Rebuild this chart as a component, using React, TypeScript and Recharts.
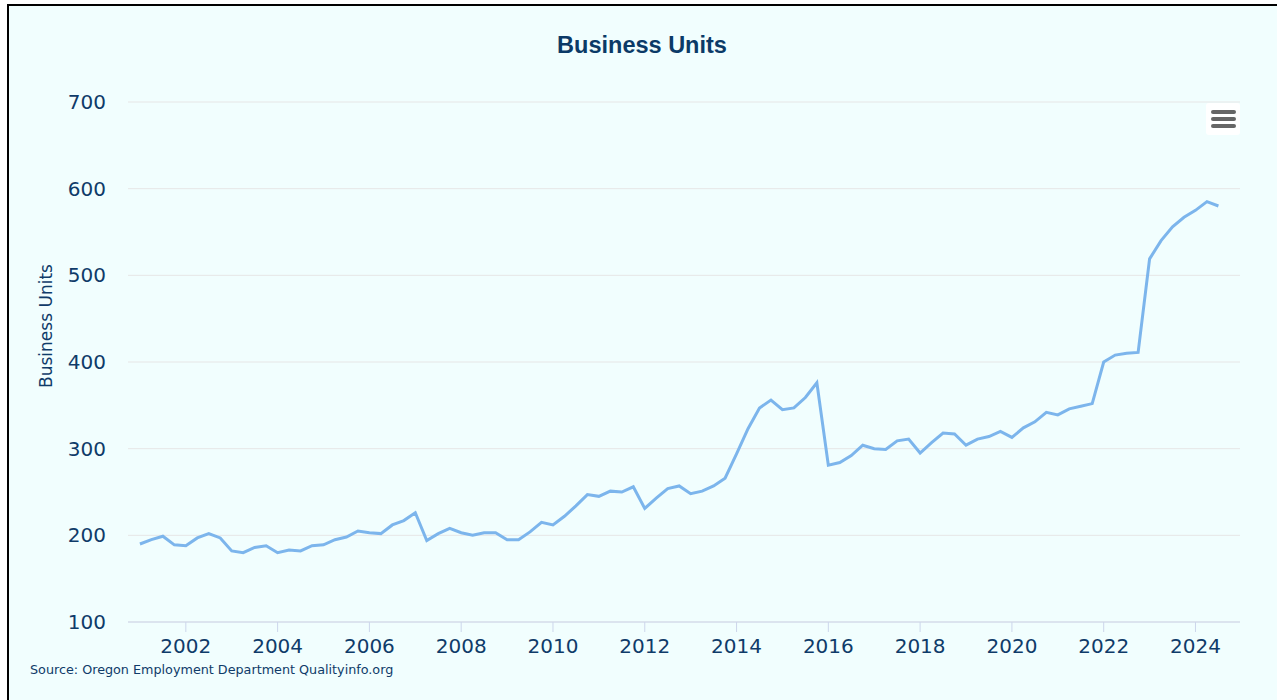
import { LineChart, Line, XAxis, YAxis, CartesianGrid } from "recharts";

// Quarterly business units, 2001 Q1 .. 2024 Q3
const startYear = 2001;
const units = [
  190, 195, 199, 189, 188, 197, 202, 197, 182, 180, 186, 188,
  180, 183, 182, 188, 189, 195, 198, 205, 203, 202, 212, 217,
  226, 194, 202, 208, 203, 200, 203, 203, 195, 195, 204, 215,
  212, 222, 234, 247, 245, 251, 250, 256, 231, 243, 254, 257,
  248, 251, 257, 266, 294, 323, 347, 356, 345, 347, 359, 376,
  281, 284, 292, 304, 300, 299, 309, 311, 295, 307, 318, 317,
  304, 311, 314, 320, 313, 324, 331, 342, 339, 346, 349, 352,
  400, 408, 410, 411, 519, 540, 556, 567, 575, 585, 580,
];
const yearTicks = [2002, 2004, 2006, 2008, 2010, 2012, 2014, 2016, 2018, 2020, 2022, 2024];
const valueTicks = [100, 200, 300, 400, 500, 600, 700];

const data = units.map((v, i) => ({
  t: startYear + Math.floor(i / 4) + (i % 4) / 4,
  v,
}));

const NAVY = "#0f3b69";
const TICK_FONT = "'DejaVu Sans', Verdana, sans-serif";

export default function App() {
  return (
    <div style={{ position: "fixed", left: 0, top: 0, width: 1277, height: 700, background: "#fff", overflow: "hidden" }}>
      <div
        style={{
          position: "absolute",
          left: 7,
          top: 4,
          right: 0,
          bottom: 0,
          borderTop: "2px solid #000",
          borderLeft: "2px solid #000",
          background: "#f1fefe",
        }}
      />
      <div
        style={{
          position: "absolute",
          left: 0,
          width: 1284,
          top: 32,
          textAlign: "center",
          fontFamily: "'Liberation Sans', Arial, sans-serif",
          fontWeight: 700,
          fontSize: 23.5,
          color: "#0b3a67",
        }}
      >
        Business Units
      </div>
      <div
        style={{
          position: "absolute",
          left: 46,
          top: 326,
          transform: "translate(-50%, -50%) rotate(-90deg)",
          whiteSpace: "nowrap",
          fontFamily: TICK_FONT,
          fontSize: 17,
          color: NAVY,
        }}
      >
        Business Units
      </div>
      <div style={{ position: "absolute", left: 0, top: 0 }}>
        <LineChart width={1277} height={700} data={data} margin={{ top: 102, right: 37, bottom: 48, left: 0 }}>
          <CartesianGrid horizontal vertical={false} stroke="#e6e6e6" />
          <XAxis
            dataKey="t"
            type="number"
            domain={[2000.74, 2024.97]}
            ticks={yearTicks}
            allowDataOverflow
            height={30}
            stroke="#ccd6eb"
            tickSize={10}
            tickMargin={7}
            tick={{ fill: NAVY, fontSize: 20, fontFamily: TICK_FONT }}
          />
          <YAxis
            type="number"
            domain={[100, 700]}
            ticks={valueTicks}
            width={128}
            axisLine={false}
            tickLine={false}
            tickSize={0}
            tickMargin={22}
            tick={{ fill: NAVY, fontSize: 20, fontFamily: TICK_FONT }}
          />
          <Line
            type="linear"
            dataKey="v"
            stroke="#7cb5ec"
            strokeWidth={3}
            dot={false}
            isAnimationActive={false}
          />
        </LineChart>
      </div>
      <div
        style={{
          position: "absolute",
          left: 30,
          top: 662,
          fontFamily: TICK_FONT,
          fontSize: 12.75,
          color: NAVY,
          whiteSpace: "nowrap",
        }}
      >
        Source: Oregon Employment Department Qualityinfo.org
      </div>
      <div
        style={{
          position: "absolute",
          left: 1206,
          top: 103,
          width: 34,
          height: 32,
          background: "#fff",
          borderRadius: 3,
        }}
      >
        {[7, 14, 21].map((y) => (
          <div
            key={y}
            style={{
              position: "absolute",
              left: 5,
              top: y,
              width: 25,
              height: 4,
              borderRadius: 2,
              background: "#666",
            }}
          />
        ))}
      </div>
    </div>
  );
}
